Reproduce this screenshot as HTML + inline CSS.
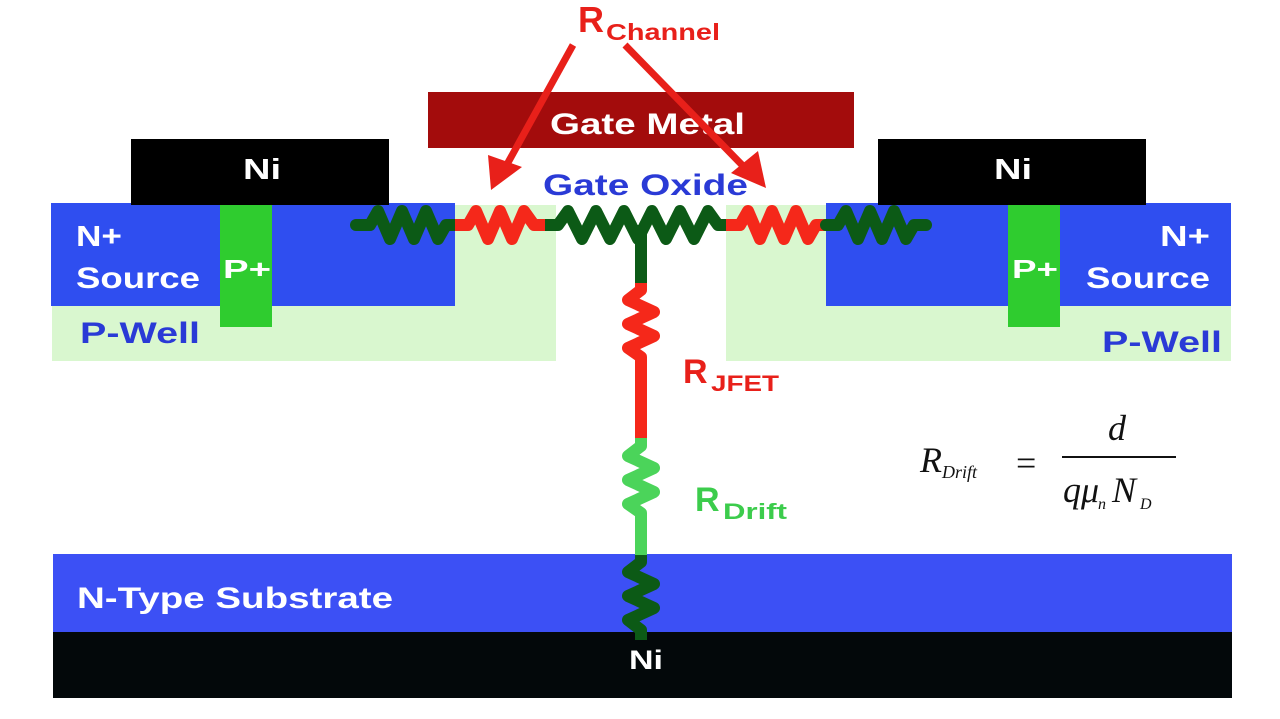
<!DOCTYPE html>
<html><head><meta charset="utf-8"><style>
html,body{margin:0;padding:0;background:#fff;}
svg{display:block;}
.b{font-family:"Liberation Sans",sans-serif;font-weight:bold;}
.m{font-family:"Liberation Serif",serif;font-style:italic;}
</style></head><body>
<svg width="1280" height="719" viewBox="0 0 1280 719" xmlns="http://www.w3.org/2000/svg">
<rect width="1280" height="719" fill="#fff"/>
<rect x="52" y="205" width="504" height="156" fill="#d9f7cf"/>
<rect x="726" y="205" width="505" height="156" fill="#d9f7cf"/>
<rect x="51" y="203" width="404" height="103" fill="#2f4ef0"/>
<rect x="826" y="203" width="405" height="103" fill="#2f4ef0"/>
<rect x="220" y="205" width="52" height="122" fill="#2fcc2f"/>
<rect x="1008" y="205" width="52" height="122" fill="#2fcc2f"/>
<rect x="131" y="139" width="258" height="66" fill="#000"/>
<rect x="878" y="139" width="268" height="66" fill="#000"/>
<rect x="428" y="92" width="426" height="56" fill="#a30c0c"/>
<rect x="53" y="554" width="1179" height="78" fill="#3c50f5"/>
<rect x="53" y="632" width="1179" height="66" fill="#03080a"/>

<g class="b" lengthAdjust="spacingAndGlyphs">
<text x="243" y="179" font-size="29" fill="#fff" textLength="38" lengthAdjust="spacingAndGlyphs">Ni</text>
<text x="994" y="179" font-size="29" fill="#fff" textLength="38" lengthAdjust="spacingAndGlyphs">Ni</text>
<text x="550" y="134" font-size="30" fill="#fff" textLength="195" lengthAdjust="spacingAndGlyphs">Gate Metal</text>
<text x="543" y="195" font-size="30" fill="#2a3ad6" textLength="205" lengthAdjust="spacingAndGlyphs">Gate Oxide</text>
<text x="76" y="246" font-size="29" fill="#fff" textLength="46" lengthAdjust="spacingAndGlyphs">N+</text>
<text x="76" y="288" font-size="30" fill="#fff" textLength="124" lengthAdjust="spacingAndGlyphs">Source</text>
<text x="223" y="278" font-size="26" fill="#fff" textLength="48" lengthAdjust="spacingAndGlyphs">P+</text>
<text x="80" y="343" font-size="30" fill="#2a3ad6" textLength="120" lengthAdjust="spacingAndGlyphs">P-Well</text>
<text x="1160" y="246" font-size="29" fill="#fff" textLength="50" lengthAdjust="spacingAndGlyphs">N+</text>
<text x="1086" y="288" font-size="30" fill="#fff" textLength="124" lengthAdjust="spacingAndGlyphs">Source</text>
<text x="1012" y="278" font-size="26" fill="#fff" textLength="46" lengthAdjust="spacingAndGlyphs">P+</text>
<text x="1102" y="352" font-size="30" fill="#2a3ad6" textLength="120" lengthAdjust="spacingAndGlyphs">P-Well</text>
<text x="77" y="608" font-size="30" fill="#fff" textLength="316" lengthAdjust="spacingAndGlyphs">N-Type Substrate</text>
<text x="629" y="669" font-size="27" fill="#fff" textLength="34" lengthAdjust="spacingAndGlyphs">Ni</text>
</g>

<text x="578" y="32" class="b" font-size="36" fill="#e8201a">R</text>
<text x="606" y="40" class="b" font-size="23" fill="#e8201a" textLength="114" lengthAdjust="spacingAndGlyphs">Channel</text>
<text x="683" y="383" class="b" font-size="34" fill="#e8201a">R</text>
<text x="711" y="391" class="b" font-size="22" fill="#e8201a" textLength="68" lengthAdjust="spacingAndGlyphs">JFET</text>
<text x="695" y="511" class="b" font-size="34" fill="#3ccc4c">R</text>
<text x="723" y="519" class="b" font-size="22" fill="#3ccc4c" textLength="64" lengthAdjust="spacingAndGlyphs">Drift</text>

<text x="920" y="472" class="m" font-size="36" fill="#111">R</text>
<text x="942" y="478" class="m" font-size="18" fill="#111">Drift</text>
<text x="1016" y="475" font-family="Liberation Serif,serif" font-size="36" fill="#111">=</text>
<line x1="1062" y1="457" x2="1176" y2="457" stroke="#111" stroke-width="2"/>
<text x="1108" y="440" class="m" font-size="36" fill="#111">d</text>
<text x="1063" y="502" class="m" font-size="36" fill="#111">qμ</text>
<text x="1098" y="509" class="m" font-size="16" fill="#111">n</text>
<text x="1112" y="502" class="m" font-size="36" fill="#111">N</text>
<text x="1140" y="509" class="m" font-size="16" fill="#111">D</text>

<g stroke="#e8201a" stroke-width="7">
<line x1="573" y1="45" x2="505" y2="168"/>
<line x1="625" y1="45" x2="745" y2="168"/>
</g>
<polygon points="491,190 488,155 522,167" fill="#e8201a"/>
<polygon points="766,188 731,173 758,151" fill="#e8201a"/>

<g fill="none" stroke-width="12" stroke-linejoin="round" stroke-linecap="round">
<polyline stroke="#0c5a16" points="356,225 370,225 378,211 390,239 402,211 414,239 426,211 438,239 446,225 455,225"/>
<polyline stroke="#f5281a" stroke-linecap="butt" points="455,225 468,225 476,211 488,239 500,211 512,239 524,211 534,225 545,225"/>
<polyline stroke="#0c5a16" stroke-linecap="butt" points="545,225 558,225 568,211 582,239 596,211 610,239 624,211 638,239 652,211 666,239 680,211 694,239 708,211 718,225 726,225"/>
<polyline stroke="#f5281a" stroke-linecap="butt" points="726,225 740,225 748,211 760,239 772,211 784,239 796,211 808,239 816,225 826,225"/>
<polyline stroke="#0c5a16" points="826,225 838,225 846,211 858,239 870,211 882,239 894,211 906,239 914,225 926,225"/>
<polyline stroke="#0c5a16" stroke-linecap="butt" points="641,225 641,285"/>
<polyline stroke="#f5281a" stroke-linecap="butt" points="641,283 641,290 628,300 654,312 628,324 654,336 628,348 641,357 641,440"/>
<polyline stroke="#4bd45a" stroke-linecap="butt" points="641,438 641,446 628,456 654,468 628,480 654,492 628,504 641,513 641,557"/>
<polyline stroke="#0c5a16" stroke-linecap="butt" points="641,555 641,562 628,572 654,584 628,596 654,608 628,620 641,630 641,640"/>
</g>
</svg>
</body></html>
